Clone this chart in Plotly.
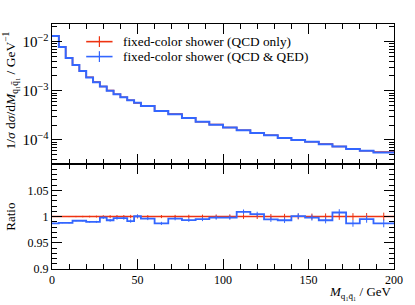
import plotly.graph_objects as go
import numpy as np

# ---- data ----
bin_edges = [0, 4, 8, 12, 16, 20, 24, 28, 32, 36, 40, 44, 48, 52, 60, 68, 76, 84,
             92, 100, 108, 116, 124, 132, 140, 148, 156, 164, 172, 180, 188, 200]
qcd_only = [0.01324, 0.00790, 0.00472, 0.00336, 0.00254, 0.00189, 0.00151, 0.00122,
            0.00101, 0.000851, 0.000740, 0.000643, 0.000566, 0.000492, 0.000393,
            0.000334, 0.000281, 0.000234, 0.000204, 0.000178, 0.000156, 0.000137,
            0.000124, 0.000110, 0.0000988, 0.0000912, 0.0000819, 0.0000729,
            0.0000658, 0.0000599, 0.0000561]
ratio_qed = [0.987, 0.988, 0.988, 0.992, 0.992, 0.990, 0.990, 0.998, 0.993, 0.997,
             0.997, 0.9915, 1.0006, 0.996, 0.987, 0.996, 0.9934, 0.995, 0.998, 0.998,
             1.009, 1.0045, 0.9948, 0.993, 1.001, 0.998, 0.993, 1.0078, 0.987, 0.995,
             0.987]
rel_err = [0.0006, 0.0008, 0.001, 0.0012, 0.0014, 0.0016, 0.0018,
           0.0025, 0.0027, 0.003, 0.003, 0.0032, 0.0035,
           0.0028, 0.003, 0.0032, 0.0035, 0.0037, 0.004,
           0.0042, 0.0045, 0.0047, 0.005, 0.0052, 0.0055, 0.0057, 0.006, 0.0062,
           0.0065, 0.0068, 0.0075]
x_ticks = [0, 50, 100, 150, 200]
ratio_ticks = [0.9, 0.95, 1.0, 1.05]
ratio_ticklabels = ["0.9", "0.95", "1", "1.05"]
labels = ["fixed-color shower (QCD only)", "fixed-color shower (QCD &amp; QED)"]

RED = "#EE3311"
BLUE = "#3366FF"
FONT = "Liberation Serif"

edges = np.array(bin_edges, dtype=float)
centers = 0.5 * (edges[:-1] + edges[1:])
qcd = np.array(qcd_only)
rat = np.array(ratio_qed)
qed = qcd * rat
err = np.array(rel_err)


def step(vals):
    return list(edges), list(vals) + [vals[-1]]


fig = go.Figure()

# main panel
for vals, col, w in [(qcd, RED, 1.5), (qed, BLUE, 2.0)]:
    xs, ys = step(vals)
    fig.add_trace(go.Scatter(x=xs, y=ys, mode="lines", line=dict(color=col, width=w, shape="hv"),
                             xaxis="x", yaxis="y", showlegend=False, hoverinfo="skip"))

# ratio panel
ones = np.ones_like(rat)
for vals, col, w in [(ones, RED, 1.6), (rat, BLUE, 1.8)]:
    xs, ys = step(vals)
    fig.add_trace(go.Scatter(x=xs, y=ys, mode="lines", line=dict(color=col, width=w, shape="hv"),
                             xaxis="x2", yaxis="y2", showlegend=False, hoverinfo="skip"))
    fig.add_trace(go.Scatter(x=centers, y=vals, mode="markers", marker=dict(size=0.1, color=col),
                             error_y=dict(type="data", array=err * vals, color=col, thickness=1, width=0),
                             xaxis="x2", yaxis="y2", showlegend=False, hoverinfo="skip"))

split = 0.428
common_x = dict(range=[0, 200], tickvals=x_ticks, ticks="inside", ticklen=10, tickcolor="black",
                showline=True, linecolor="black", linewidth=1, mirror="allticks", showgrid=False,
                zeroline=False, minor=dict(dtick=10, ticks="inside", ticklen=5, tickcolor="black"))
fig.update_layout(
    width=415, height=305,
    margin=dict(l=52, r=13, t=24, b=36),
    paper_bgcolor="white", plot_bgcolor="white",
    font=dict(family=FONT, size=12, color="black"),
    xaxis=dict(domain=[0, 1], anchor="y", showticklabels=False, **common_x),
    xaxis2=dict(domain=[0, 1], anchor="y2", showticklabels=True, tickfont=dict(size=12), **common_x),
    yaxis=dict(domain=[split, 1], anchor="x", type="log", range=[-4.496, -1.639], dtick=1,
               exponentformat="power", ticks="inside", ticklen=10, tickcolor="black",
               showline=True, linecolor="black", linewidth=1, mirror="allticks", showgrid=False,
               zeroline=False, tickfont=dict(size=12),
               minor=dict(ticks="inside", ticklen=5, tickcolor="black", dtick="D1")),
    yaxis2=dict(domain=[0, split], anchor="x2", range=[0.9, 1.1], tickvals=ratio_ticks,
                ticktext=ratio_ticklabels, ticks="inside", ticklen=10, tickcolor="black",
                showline=True, linecolor="black", linewidth=1, mirror="allticks", showgrid=False,
                zeroline=False, tickfont=dict(size=12),
                minor=dict(dtick=0.01, ticks="inside", ticklen=5, tickcolor="black")),
)

# axis titles
fig.add_annotation(text="1/<i>σ</i> d<i>σ</i>/d<i>M</i><sub>q₁q̄₁</sub> / GeV<sup>−1</sup>",
                   xref="paper", yref="paper", x=-0.12, y=0.728, textangle=-90,
                   xanchor="center", yanchor="middle", showarrow=False, font=dict(size=13.5))
fig.add_annotation(text="Ratio", xref="paper", yref="paper", x=-0.12, y=0.213, textangle=-90,
                   xanchor="center", yanchor="middle", showarrow=False, font=dict(size=13))
fig.add_annotation(text="<i>M</i><sub>q₁q̄₁</sub> / GeV", xref="paper", yref="paper", x=1, y=-0.097,
                   xanchor="right", yanchor="middle", showarrow=False, font=dict(size=13))

# legend (manual)
leg_y = [0.928, 0.867]
for (lab, col, ly) in zip(labels, [RED, BLUE], leg_y):
    fig.add_shape(type="line", xref="paper", yref="paper", x0=0.10, x1=0.177, y0=ly, y1=ly,
                  line=dict(color=col, width=1.6))
    fig.add_shape(type="line", xref="paper", yref="paper", x0=0.1386, x1=0.1386, y0=ly - 0.022,
                  y1=ly + 0.022, line=dict(color=col, width=1.2))
    fig.add_annotation(text=lab, xref="paper", yref="paper", x=0.203, y=ly, xanchor="left",
                       yanchor="middle", showarrow=False, font=dict(size=13.3))

fig.write_html("out.html", config={"displayModeBar": False},
               post_script="document.body.style.margin='0';document.body.style.overflow='hidden';")
